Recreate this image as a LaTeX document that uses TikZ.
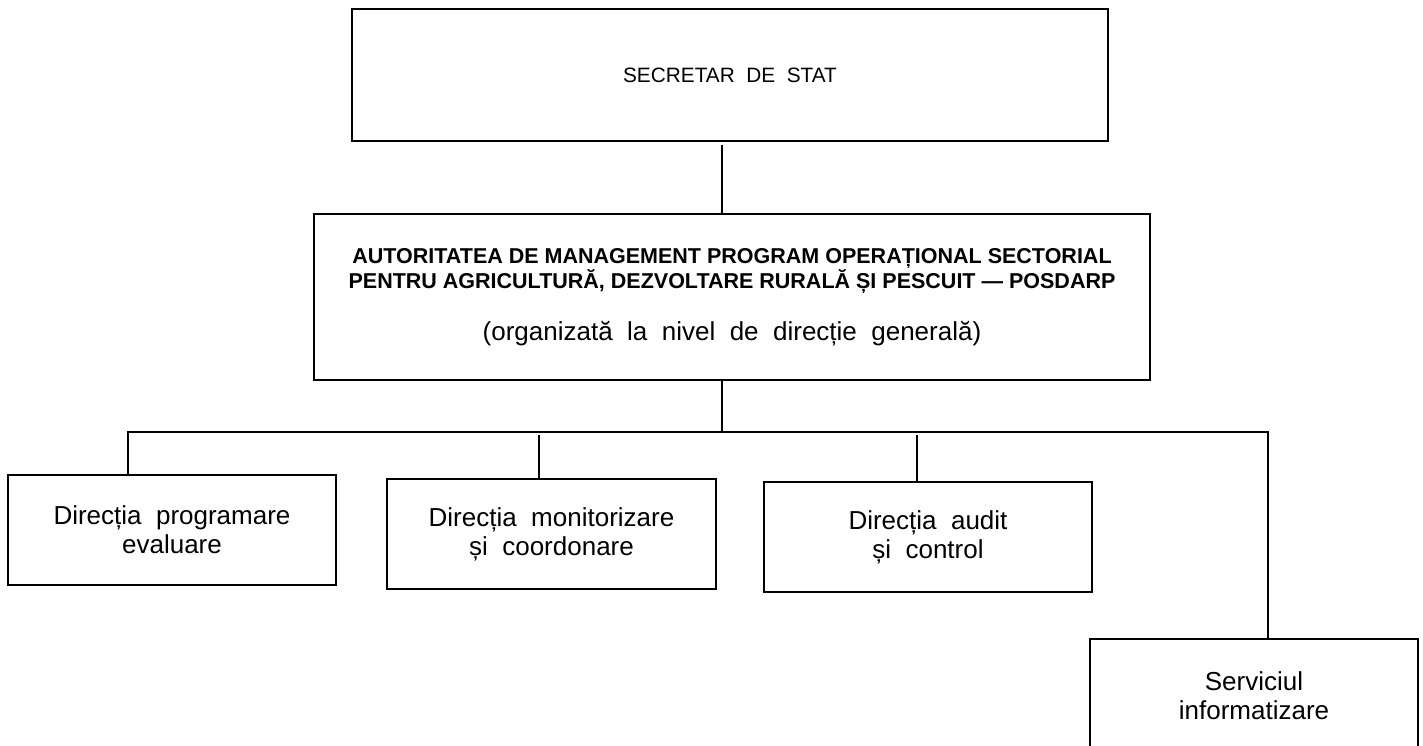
\documentclass[tikz,border=0pt]{standalone}
\usepackage{fontspec}
\setmainfont{Liberation Sans}[WordSpace=2]
\newfontfamily\boldsans{Liberation Sans}[BoldFont={Liberation Sans Bold}]
\begin{document}
\begin{tikzpicture}[x=1pt,y=-1pt,
  box/.style={draw=black,line width=1.8pt,rectangle,inner sep=0pt,align=center},
  conn/.style={draw=black,line width=1.5pt},
  unitbox/.style={box,minimum width=328pt,minimum height=110pt,font=\fontsize{26}{29}\selectfont}]
\useasboundingbox (0,0) rectangle (1423,746);
\clip (0,0) rectangle (1423,746);
\node[box,minimum width=756pt,minimum height=132pt,font=\fontsize{20.8}{25}\selectfont] (top) at (730,75) {SECRETAR DE STAT};
\node[box,minimum width=836pt,minimum height=166pt,font=\fontsize{26}{25}\selectfont] (mid) at (732,297)
  {\boldsans\bfseries\fontsize{21.5}{25}\selectfont AUTORITATEA DE MANAGEMENT PROGRAM OPERAȚIONAL SECTORIAL\\
   \boldsans\bfseries\fontsize{21.5}{25}\selectfont PENTRU AGRICULTURĂ, DEZVOLTARE RURALĂ ȘI PESCUIT — POSDARP\\[27pt]
   (organizată la nivel de direcție generală)};
\node[unitbox] (b1) at (172,530) {Direcția programare\\evaluare};
\node[unitbox,minimum width=329pt] (b2) at (551.5,534) {Direcția monitorizare\\și coordonare};
\node[unitbox] (b3) at (928,537) {Direcția audit\\și control};
\node[unitbox,minimum height=114pt] (b4) at (1254,696) {Serviciul\\informatizare};
\coordinate (trunk) at (722,432);
\coordinate (d1) at (128,432);
\coordinate (d2) at (539,432);
\coordinate (d3) at (917,432);
\coordinate (d4) at (1268,432);
\draw[conn] ([yshift=-3pt]top.south -| trunk) -- (mid.north -| trunk);
\draw[conn] (mid.south -| trunk) -- ([yshift=-1pt]trunk);
\draw[conn] (d1 |- b1.north) -- (d1) -- (d4) -- (d4 |- b4.north);
\draw[conn] ([yshift=-3pt]d2) -- (d2 |- b2.north);
\draw[conn] ([yshift=-3pt]d3) -- (d3 |- b3.north);
\end{tikzpicture}
\end{document}
